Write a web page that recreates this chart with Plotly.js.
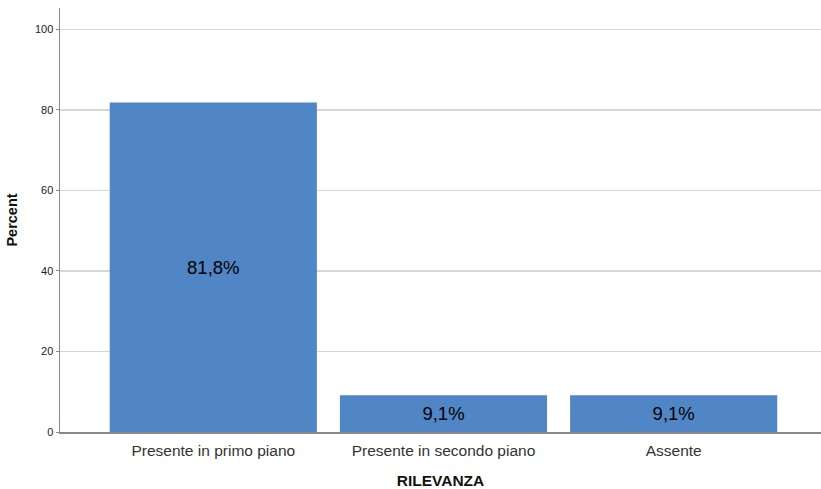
<!DOCTYPE html>
<html>
<head>
<meta charset="utf-8">
<script src="https://cdn.plot.ly/plotly-3.0.1.min.js"></script>
<style>html,body{margin:0;padding:0;background:#fff;}#chart{width:821px;height:489px;}</style>
</head>
<body>
<div id="chart"></div>
<script>
const categories = ["Presente in primo piano", "Presente in secondo piano", "Assente"];
const percents = [81.8, 9.1, 9.1];
const yTicks = [0, 20, 40, 60, 80, 100];

const trace = {
  type: 'bar',
  x: categories,
  y: percents,
  marker: {color: '#5086c5'},
  texttemplate: '%{y:.1f}%',
  textposition: 'inside',
  insidetextanchor: 'middle',
  textfont: {family: 'Liberation Sans, Arial, sans-serif', size: 18.5, color: '#000'},
  hoverinfo: 'none'
};

const layout = {
  width: 821, height: 489,
  margin: {l: 60, r: 0, t: 8, b: 57},
  paper_bgcolor: '#fff', plot_bgcolor: '#fff',
  separators: ',.',
  bargap: 0.1,
  showlegend: false,
  font: {family: 'Liberation Sans, Arial, sans-serif', color: '#222'},
  xaxis: {
    range: [-0.666, 2.64],
    showline: true, linecolor: '#888', linewidth: 1.5,
    showgrid: false, ticks: '', zeroline: false,
    tickfont: {size: 15.5, color: '#333'},
    ticklabelstandoff: 4,
    title: {text: 'RILEVANZA', font: {size: 15.5, color: '#111', weight: 'bold'}, standoff: 20}
  },
  yaxis: {
    range: [0, 105.3],
    tickvals: yTicks,
    showline: true, linecolor: '#888', linewidth: 1.5,
    showgrid: true, gridcolor: '#d6d6d6', gridwidth: 1.5,
    zeroline: false,
    ticks: 'outside', ticklen: 3, tickcolor: '#888',
    tickfont: {size: 11, color: '#222'},
    title: {text: 'Percent', font: {size: 14.5, color: '#111', weight: 'bold'}, standoff: 14}
  }
};

Plotly.newPlot('chart', [trace], layout, {displayModeBar: false, staticPlot: true});
</script>
</body>
</html>
